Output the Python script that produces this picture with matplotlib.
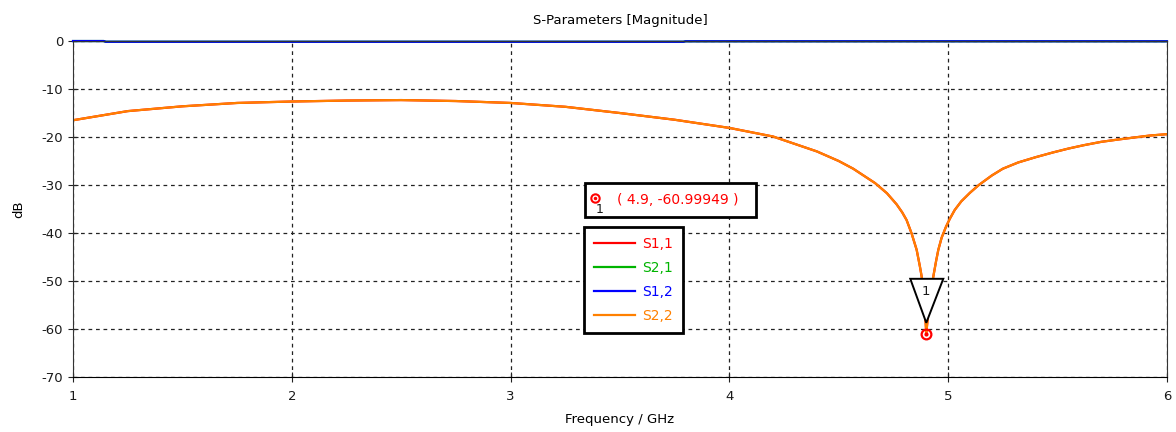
import matplotlib.pyplot as plt
import matplotlib.transforms as mtransforms
from matplotlib.patches import Polygon, Rectangle

# S-parameter magnitudes (dB) vs frequency (GHz)
freq_22 = [1.0, 1.25, 1.5, 1.75, 2.0, 2.25, 2.5, 2.75, 3.0, 3.25, 3.5, 3.75,
           4.0, 4.2, 4.4, 4.5, 4.566, 4.666, 4.72, 4.764, 4.79, 4.81, 4.833,
           4.856, 4.871, 4.879, 4.89, 4.9, 4.915, 4.932, 4.945, 4.955, 4.97,
           4.99, 5.008, 5.03, 5.06, 5.1, 5.14, 5.2, 5.25, 5.32, 5.4, 5.48,
           5.55, 5.62, 5.7, 5.78, 5.85, 5.92, 6.0]
s22 = [-16.5, -14.6, -13.6, -12.9, -12.6, -12.4, -12.3, -12.5, -12.9, -13.7,
       -15.0, -16.4, -18.1, -19.9, -23.0, -25.0, -26.6, -29.6, -31.7, -34.0,
       -35.7, -37.3, -40.1, -43.5, -47.0, -49.1, -53.0, -61.0, -53.5, -49.1,
       -45.8, -43.5, -41.0, -38.7, -37.0, -35.2, -33.4, -31.6, -30.0, -28.0,
       -26.6, -25.3, -24.2, -23.2, -22.4, -21.7, -21.0, -20.5, -20.1, -19.7,
       -19.4]
freq_12 = [1.0, 1.14, 1.15, 3.79, 3.8, 6.0]
s12 = [0.0, 0.0, -0.15, -0.15, -0.05, -0.05]

# symmetric two-port: S1,1 follows S2,2 and S2,1 follows S1,2
freq_11, s11 = freq_22, s22
freq_21, s21 = freq_12, s12

marker_f = 4.9
marker_db = -60.99949

plt.rcParams['font.family'] = 'DejaVu Sans'
plt.rcParams['font.size'] = 9.5
plt.rcParams['axes.unicode_minus'] = False

fig = plt.figure(figsize=(11.76, 4.32), dpi=100)
ax = fig.add_axes([0.0621, 0.1273, 0.9302, 0.7777])

ax.plot(freq_11, s11, color='#ff0000', lw=1.6, label='S1,1')
ax.plot(freq_21, s21, color='#00b400', lw=1.6, label='S2,1', clip_on=False)
ax.plot(freq_12, s12, color='#0000ff', lw=1.6, label='S1,2', clip_on=False)
ax.plot(freq_22, s22, color='#ff8000', lw=1.6, label='S2,2')

ax.set_xlim(1, 6)
ax.set_ylim(-70, 0)
ax.set_xticks([1, 2, 3, 4, 5, 6])
ax.set_yticks(range(-70, 1, 10))
ax.grid(True, color='#222222', linestyle=(0, (3, 3)), linewidth=0.9)
ax.tick_params(direction='inout', length=7, color='#222222', colors='#1a1a1a')
ax.tick_params(axis='x', pad=6)
for side in ['left', 'bottom', 'right', 'top']:
    ax.spines[side].set_color('#333333')
ax.spines['bottom'].set_color('#000000')

ax.set_title('S-Parameters [Magnitude]', fontsize=9.5, pad=12)
ax.set_xlabel('Frequency / GHz', labelpad=7)
ax.set_ylabel('dB', labelpad=12)

# marker 1 at the resonance dip
ax.plot(marker_f, marker_db, 'o', ms=7, mfc='none', mec='#ff0000', mew=1.6,
        zorder=6, clip_on=False)
ax.plot(marker_f, marker_db, 'o', ms=2, color='#ff0000', zorder=6)
tri_trans = fig.dpi_scale_trans + mtransforms.ScaledTranslation(
    marker_f, marker_db, ax.transData)
ax.add_patch(Polygon([(-0.16, 0.55), (0.17, 0.55), (0.0, 0.11)], closed=True,
                     facecolor='white', edgecolor='black', lw=1.4,
                     transform=tri_trans, zorder=5))
ax.text(0.0, 0.42, '1', transform=tri_trans, ha='center', va='center',
        fontsize=9.5, color='#1a1a1a', zorder=6)

# marker readout box
ax.add_patch(Rectangle((0.468, 0.476), 0.156, 0.101, transform=ax.transAxes,
                       facecolor='white', edgecolor='black', lw=2, zorder=7))
ax.plot(0.4776, 0.533, 'o', ms=6, mfc='none', mec='#ff0000', mew=1.5,
        transform=ax.transAxes, zorder=8)
ax.plot(0.4776, 0.533, 'o', ms=1.5, color='#ff0000',
        transform=ax.transAxes, zorder=8)
ax.text(0.4815, 0.500, '1', transform=ax.transAxes, ha='center', va='center',
        fontsize=9, color='#1a1a1a', zorder=8)
ax.text(0.497, 0.527, '( 4.9, -60.99949 )', transform=ax.transAxes,
        ha='left', va='center', color='#ff0000', fontsize=10, zorder=8)

leg = ax.legend(loc='upper left', bbox_to_anchor=(0.467, 0.446),
                frameon=True, fancybox=False, labelcolor='linecolor',
                handlelength=3.0, handletextpad=0.5, labelspacing=0.72,
                borderpad=0.7, fontsize=10, borderaxespad=0)
leg.get_frame().set_edgecolor('black')
leg.get_frame().set_linewidth(2)
leg.get_frame().set_alpha(1)
leg.set_zorder(7)

fig.savefig('out.png', dpi=100)
